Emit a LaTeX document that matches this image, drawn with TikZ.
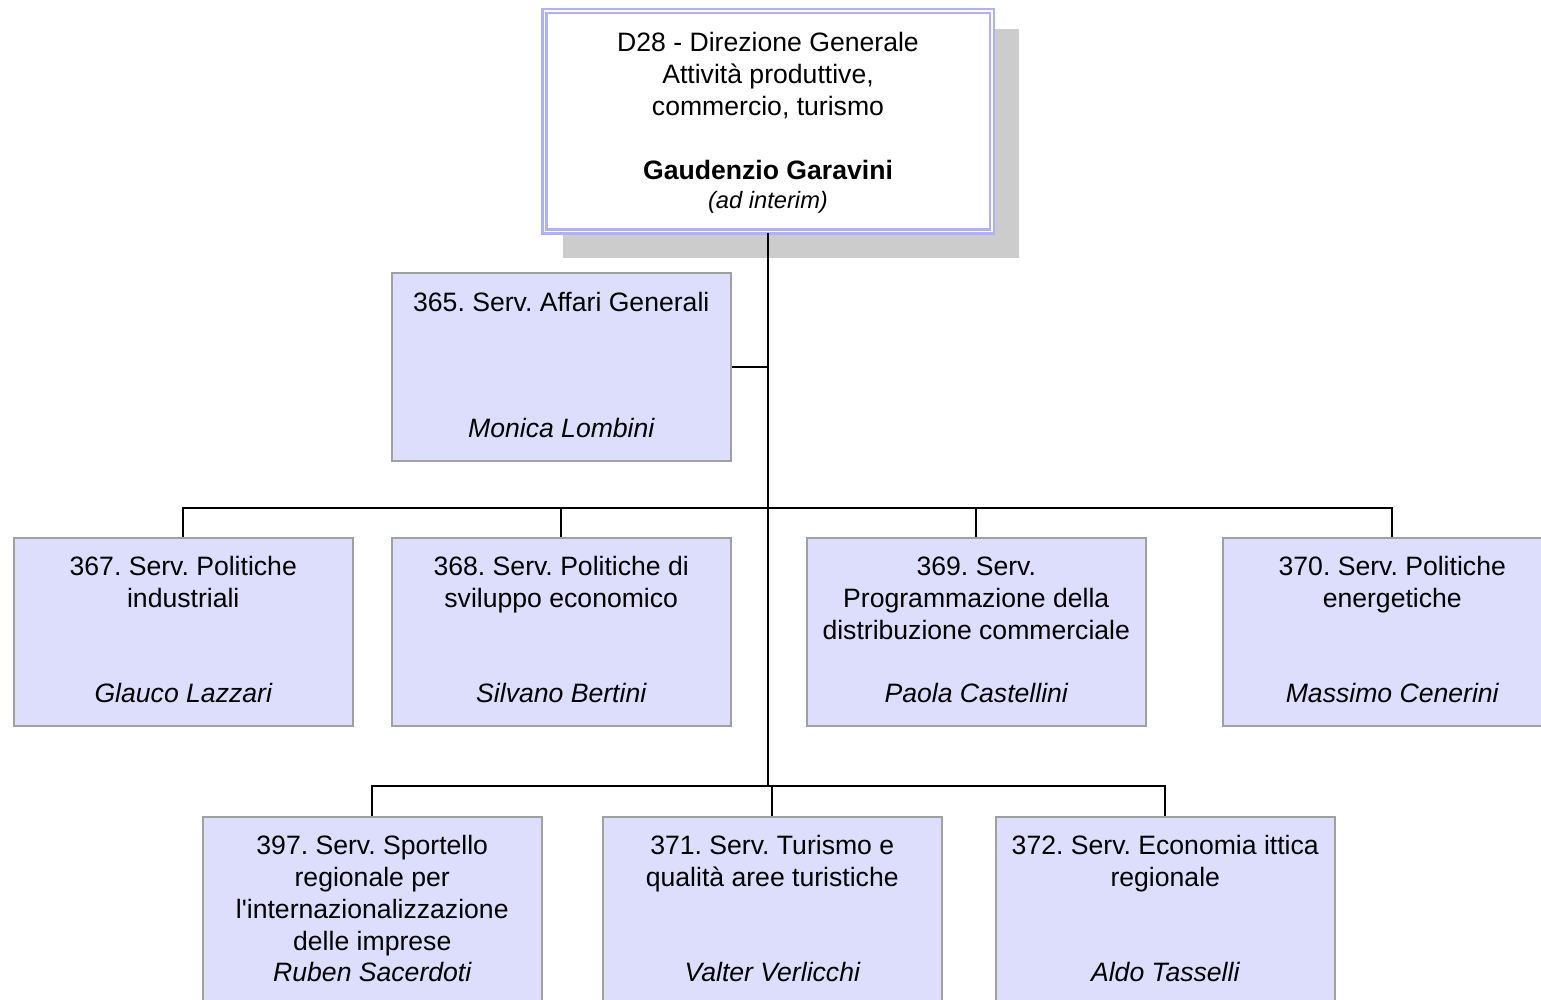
\documentclass[tikz,border=0pt]{standalone}
\usepackage{fontspec}
\setmainfont{Liberation Sans}[Ligatures=TeXOff]
\usetikzlibrary{calc}
\definecolor{boxfill}{RGB}{221,221,252}
\definecolor{boxline}{RGB}{160,160,160}
\definecolor{topline}{RGB}{175,175,255}
\definecolor{shadowgray}{RGB}{204,204,204}
\frenchspacing
\begin{document}
\begin{tikzpicture}[x=1pt,y=-1pt,
  unit/.style={draw=boxline, line width=1.5pt, fill=boxfill, minimum width=339pt, minimum height=188pt, inner sep=0pt, anchor=north west},
  ttl/.style={font=\fontsize{26.6}{32}\selectfont, align=center, inner sep=0pt, anchor=north},
  who/.style={font=\fontsize{26.6}{32}\selectfont\itshape, inner sep=0pt, anchor=base},
  bus/.style={line width=2pt, black},
  trunk/.style={line width=2.8pt, black}]
\useasboundingbox (0,0) rectangle (1541,1000);
\clip (0,0) rectangle (1541,1000);
\fill[white] (0,0) rectangle (1541,1000);

% top box with shadow
\fill[shadowgray] (563,29) rectangle (1019,258);
\node[draw=topline, double=white, double distance=1.5pt, line width=2.5pt, fill=white,
  minimum width=447.5pt, minimum height=220.5pt, inner sep=0pt] (top) at (768,121.5) {};
\node[ttl] (ttop) at ($(top.north)+(0,18.9)$) {\frenchspacing\strut D28 - Direzione Generale\\Attività produttive,\\commercio, turismo\\[32pt]
  {\bfseries Gaudenzio Garavini}\\[-3pt]{\itshape\fontsize{23.7}{27}\selectfont (ad interim)}};

% units
\node[unit] (b365) at (391,272) {};
\node[unit] (b367) at (13,537) {};
\node[unit] (b368) at (391,537) {};
\node[unit] (b369) at (806,537) {};
\node[unit] (b370) at (1222,537) {};
\node[unit] (b397) at (202,816) {};
\node[unit] (b371) at (602,816) {};
\node[unit] (b372) at (995,816) {};

\node[ttl] (t365) at ($(b365.north)+(0,16.8)$) {\frenchspacing\strut 365. Serv. Affari Generali};
\node[who] (n365) at ($(b365.south)+(0,-24)$) {Monica Lombini};

\node[ttl] (t367) at ($(b367.north)+(0,16.3)$) {\frenchspacing\strut 367. Serv. Politiche\\industriali};
\node[who] (n367) at ($(b367.south)+(0,-24)$) {Glauco Lazzari};

\node[ttl] (t368) at ($(b368.north)+(0,16.3)$) {\frenchspacing\strut 368. Serv. Politiche di\\sviluppo economico};
\node[who] (n368) at ($(b368.south)+(0,-24)$) {Silvano Bertini};

\node[ttl] (t369) at ($(b369.north)+(0,16.3)$) {\frenchspacing\strut 369. Serv.\\Programmazione della\\distribuzione commerciale};
\node[who] (n369) at ($(b369.south)+(0,-24)$) {Paola Castellini};

\node[ttl] (t370) at ($(b370.north)+(0,16.3)$) {\frenchspacing\strut 370. Serv. Politiche\\energetiche};
\node[who] (n370) at ($(b370.south)+(0,-24)$) {Massimo Cenerini};

\node[ttl] (t397) at ($(b397.north)+(0,16.3)$) {\frenchspacing\strut 397. Serv. Sportello\\regionale per\\l'internazionalizzazione\\delle imprese};
\node[who] (n397) at ($(b397.south)+(0,-24)$) {Ruben Sacerdoti};

\node[ttl] (t371) at ($(b371.north)+(0,16.3)$) {\frenchspacing\strut 371. Serv. Turismo e\\qualità aree turistiche};
\node[who] (n371) at ($(b371.south)+(0,-24)$) {Valter Verlicchi};

\node[ttl] (t372) at ($(b372.north)+(0,16.3)$) {\frenchspacing\strut 372. Serv. Economia ittica\\regionale};
\node[who] (n372) at ($(b372.south)+(0,-24)$) {Aldo Tasselli};

% connectors
\coordinate (bus2) at (768,508);
\coordinate (bus3) at (768,786);
\draw[bus] (b365.east) -- (b365.east -| top.south);
\draw[bus] (b367.north) |- (bus2) -| (b370.north);
\draw[bus] (b368.north) -- (b368.north |- bus2);
\draw[bus] (b369.north) -- (b369.north |- bus2);
\draw[bus] (b397.north) |- (bus3) -| (b372.north);
\draw[bus] (b371.north) -- (b371.north |- bus3);
\draw[trunk] (top.south) -- (top.south |- bus3);
\end{tikzpicture}
\end{document}
